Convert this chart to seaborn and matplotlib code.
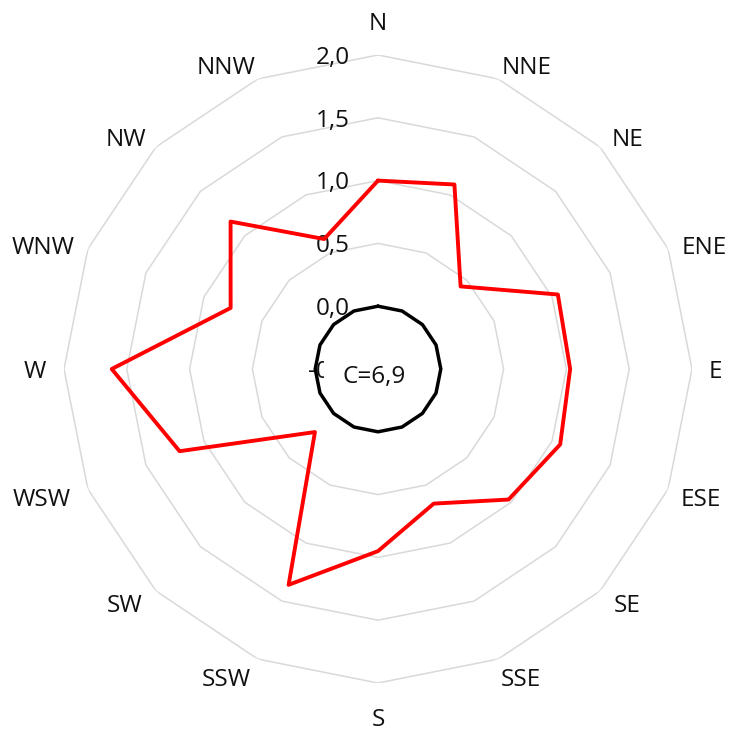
import numpy as np
import pandas as pd
import matplotlib
matplotlib.use("Agg")
import matplotlib.pyplot as plt
import seaborn as sns

# ---- data ----
directions = ["N", "NNE", "NE", "ENE", "E", "ESE", "SE", "SSE",
              "S", "SSW", "SW", "WSW", "W", "WNW", "NW", "NNW"]
frequency = [1.00, 1.09, 0.43, 1.05, 1.03, 1.07, 0.97, 0.66,
             0.95, 1.36, 0.21, 1.21, 1.62, 0.77, 1.16, 0.62]
calm_ring = [0.0] * 16
radial_ticks = [-0.5, 0.0, 0.5, 1.0, 1.5, 2.0]
calm_label = "C=6,9"

# style: offset (px, right / up) of each category label centre from the chart centre
label_dx_px = [0, 149, 249, 326, 337, 323, 249, 143,
               0, -152, -253, -336, -343, -335, -252, -152]
label_dy_px = [349, 305, 233, 125, 0, -128, -233, -307,
               -348, -307, -233, -128, 0, 125, 233, 305]

sns.set_style("white")
plt.rcParams["font.family"] = ["Open Sans", "DejaVu Sans"]

n = len(directions)
theta = np.arange(n) * 2 * np.pi / n
theta_c = np.append(theta, 2 * np.pi)

def closed(vals):
    return list(vals) + [vals[0]]

FS = 17.5
TXT = "#111111"
RMIN, RMAX = -0.5, 2.0

fig = plt.figure(figsize=(7.29, 7.29), dpi=100)
ax = fig.add_axes([64 / 729, 46 / 729, 628 / 729, 628 / 729], projection="polar")
ax.set_theta_zero_location("N")
ax.set_theta_direction(-1)
ax.grid(False)
ax.spines["polar"].set_visible(False)
ax.patch.set_visible(False)

# polygonal gridlines
for lvl in radial_ticks[1:]:
    ax.plot(theta_c, [lvl] * (n + 1), color="#d9d9d9", lw=1.1, zorder=1)

df_red = pd.DataFrame({"theta": theta_c, "value": closed(frequency)})
df_blk = pd.DataFrame({"theta": theta_c, "value": closed(calm_ring)})
sns.lineplot(data=df_red, x="theta", y="value", sort=False, color="#ff0000",
             lw=2.8, ax=ax, legend=False, zorder=5)
sns.lineplot(data=df_blk, x="theta", y="value", sort=False, color="black",
             lw=2.5, ax=ax, legend=False, zorder=5)

ax.set_ylim(RMIN, RMAX)
ax.set_xticks([])
ax.set_yticks([])
ax.set_xlabel("")
ax.set_ylabel("")

# radial tick labels
for v in radial_ticks:
    ax.annotate(f"{v:.1f}".replace(".", ","), xy=(0, v), xytext=(-20.2, -2),
                textcoords="offset points", ha="right", va="center",
                fontsize=FS, color=TXT, zorder=2, annotation_clip=False)

# category labels
for lab, dx, dy in zip(directions, label_dx_px, label_dy_px):
    ax.annotate(lab, xy=(0, RMIN), xytext=(dx, dy - 3.5),
                textcoords="offset pixels", ha="center", va="center",
                fontsize=FS, color=TXT, annotation_clip=False)

# calm label
ax.annotate(calm_label, xy=(0, RMIN), xytext=(-3, -6), textcoords="offset points",
            ha="center", va="center", fontsize=FS, color=TXT, zorder=3,
            bbox=dict(boxstyle="square,pad=0.75", fc="white", ec="none"))

fig.savefig("out.png", dpi=100, facecolor="white")
